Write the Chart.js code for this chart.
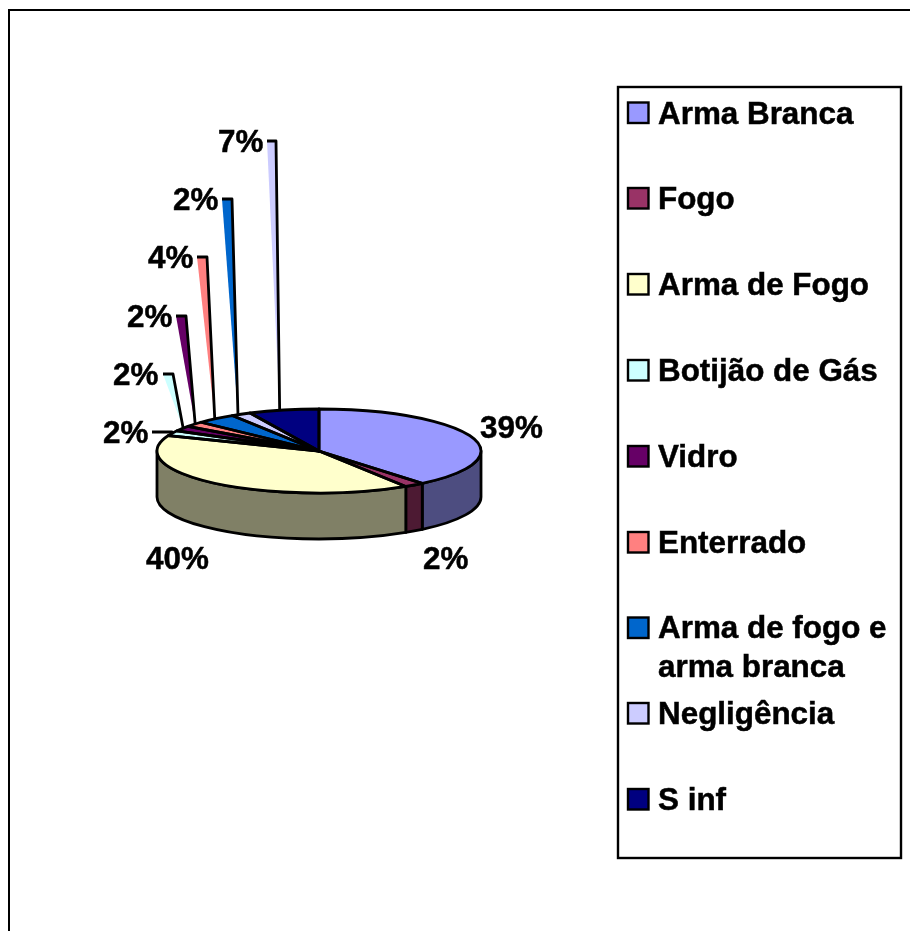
<!DOCTYPE html>
<html><head><meta charset="utf-8">
<script src="https://cdn.jsdelivr.net/npm/chart.js@4"></script>
<style>html,body{margin:0;padding:0;background:#fff}canvas{display:block}</style>
</head><body>
<div style="width:910px;height:931px"><canvas id="c" width="910" height="931"></canvas></div>
<script>
const categories = ['Arma Branca','Fogo','Arma de Fogo','Botijão de Gás','Vidro','Enterrado','Arma de fogo e arma branca','Negligência','S inf'];
const values = [39,2,40,2,2,2,4,2,7];
const colors = ['#9999FF','#993366','#FFFFCC','#CCFFFF','#660066','#FF8080','#0066CC','#CCCCFF','#000080'];
const sideColors = ['#4D4D80','#4D1A33','#808066','#668080','#330033','#804040','#003366','#666680','#000040'];

// layout (not data)
const CX = 319, CY = 451, RX = 162, RY = 42, DEPTH = 46;
const FONT = 'bold 31.4px "Liberation Sans", Arial, sans-serif';
const labelPos = [[480,438],[423,569],[146,569],[103,443],[113,385],[127,327],[148,268],[173,210],[218,152]];
// [knee left x, knee right x, knee y, nudge of the rim tip in x]
const leaderKnee = [null,null,null,[152,172,432,0],[163,173,374,1],[176,186,316,1],[197,207,257,-1],[222,232,199,-3],[267,276,141,-4]];
const legendRows = [[112.5],[198],[284],[370],[456],[542],[627.5,'Arma de fogo e','arma branca'],[713],[799]];

const sy = RY / RX;

function label(ctx, text, x, y) {
  ctx.fillText(text, x, y);
  ctx.lineWidth = 0.5;
  ctx.strokeText(text, x, y);
}

const pie3d = {
  id: 'pie3d',
  beforeDatasetsDraw(chart) {
    const ctx = chart.ctx, arcs = chart.getDatasetMeta(0).data;
    ctx.save();
    ctx.lineJoin = 'round';
    ctx.lineWidth = 2.8;
    ctx.strokeStyle = '#000';
    arcs.forEach((arc, i) => {
      const a = Math.max(arc.startAngle, 0), b = Math.min(arc.endAngle, Math.PI);
      if (b <= a) return;
      const rx = arc.outerRadius, ry = rx * sy;
      ctx.beginPath();
      ctx.ellipse(arc.x, arc.y, rx, ry, 0, a, b);
      ctx.lineTo(arc.x + rx*Math.cos(b), arc.y + ry*Math.sin(b) + DEPTH);
      ctx.ellipse(arc.x, arc.y + DEPTH, rx, ry, 0, b, a, true);
      ctx.closePath();
      ctx.fillStyle = sideColors[i];
      ctx.fill();
      ctx.stroke();
    });
    ctx.restore();
    // the library draws the top face inside this squashed space
    ctx.save();
    ctx.translate(0, CY);
    ctx.scale(1, sy);
    ctx.translate(0, -CY);
  },
  afterDatasetsDraw(chart) {
    const ctx = chart.ctx, arcs = chart.getDatasetMeta(0).data;
    ctx.restore();
    ctx.save();
    ctx.lineJoin = 'round';
    ctx.lineWidth = 2.8;
    ctx.strokeStyle = '#000';
    arcs.forEach(arc => {
      const rx = arc.outerRadius, ry = rx * sy;
      ctx.beginPath();
      ctx.moveTo(arc.x, arc.y);
      ctx.ellipse(arc.x, arc.y, rx, ry, 0, arc.startAngle, arc.endAngle);
      ctx.closePath();
      ctx.stroke();
    });
    // leaders: knee near the label, tip on the rim at the slice's middle angle
    arcs.forEach((arc, i) => {
      const k = leaderKnee[i];
      if (!k) return;
      const m = (arc.startAngle + arc.endAngle) / 2;
      const tipX = arc.x + arc.outerRadius * Math.cos(m) + k[3];
      const tipY = arc.y + arc.outerRadius * sy * Math.sin(m);
      ctx.beginPath();
      ctx.moveTo(k[0], k[2]);
      ctx.lineTo(k[1], k[2]);
      ctx.lineTo(tipX, tipY);
      ctx.fillStyle = colors[i-1];
      ctx.fill();
      ctx.stroke();
    });
    // percentage labels
    ctx.fillStyle = '#000';
    ctx.font = FONT;
    ctx.textAlign = 'left';
    ctx.textBaseline = 'alphabetic';
    values.forEach((v, i) => label(ctx, v + '%', labelPos[i][0], labelPos[i][1]));
    ctx.restore();
  },
  afterDraw(chart) {
    const ctx = chart.ctx;
    ctx.save();
    ctx.strokeStyle = '#000';
    ctx.lineWidth = 2;
    // outer frame runs off the right and bottom of the picture
    ctx.beginPath();
    ctx.moveTo(9, 940); ctx.lineTo(9, 10); ctx.lineTo(920, 10);
    ctx.stroke();
    // legend
    ctx.lineWidth = 2.4;
    ctx.strokeRect(618, 87, 283, 771);
    ctx.font = FONT;
    ctx.textAlign = 'left';
    ctx.textBaseline = 'alphabetic';
    categories.forEach((c, i) => {
      const row = legendRows[i], y = row[0];
      ctx.fillStyle = colors[i];
      ctx.lineWidth = 2.4;
      ctx.fillRect(628, y - 10, 20.5, 20.5);
      ctx.strokeRect(628, y - 10, 20.5, 20.5);
      ctx.fillStyle = '#000';
      if (row.length > 1) {
        label(ctx, row[1], 658, y + 10);
        label(ctx, row[2], 658, y + 49);
      } else {
        label(ctx, c, 658, y + 11);
      }
    });
    ctx.restore();
  }
};

new Chart(document.getElementById('c'), {
  type: 'pie',
  data: { labels: categories, datasets: [{ data: values, backgroundColor: colors, borderWidth: 0 }] },
  options: {
    responsive: false,
    animation: false,
    events: [],
    rotation: 0,
    layout: { padding: { left: CX - RX, right: 910 - CX - RX, top: CY - RX, bottom: 931 - CY - RX } },
    plugins: { legend: { display: false }, tooltip: { enabled: false } }
  },
  plugins: [pie3d]
});
</script>
</body></html>
